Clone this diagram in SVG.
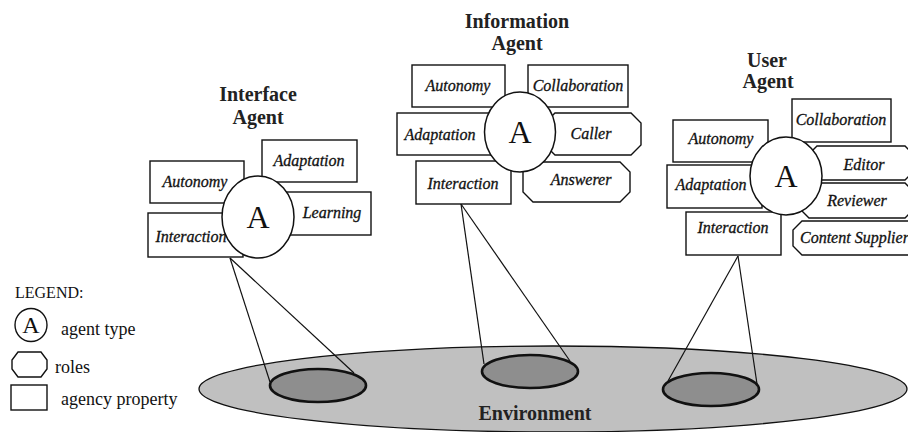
<svg xmlns="http://www.w3.org/2000/svg" width="908" height="432" viewBox="0 0 908 432">
  <style>
    .box { fill: #ffffff; stroke: #111111; stroke-width: 1.4; }
    .role { fill: #ffffff; stroke: #111111; stroke-width: 1.4; }
    .agent { fill: #ffffff; stroke: #111111; stroke-width: 1.5; }
    .lbl { font-family: "Liberation Serif", "Times New Roman", serif; font-style: italic; font-size: 16px; fill: #111111; stroke: #111111; stroke-width: 0.3; text-anchor: middle; }
    .title { font-family: "Liberation Serif", "Times New Roman", serif; font-weight: bold; font-size: 20px; fill: #222222; text-anchor: middle; }
    .bigA { font-family: "Liberation Serif", "Times New Roman", serif; font-size: 32px; fill: #111111; text-anchor: middle; }
    .leg { font-family: "Liberation Serif", "Times New Roman", serif; font-size: 18px; fill: #111111; }
    .cone { stroke: #111111; stroke-width: 1.2; fill: none; }
    .spot { fill: #8e8e8e; stroke: #111111; stroke-width: 2.6; }
  </style>
  <rect width="908" height="432" fill="#ffffff"/>

  <!-- environment floor -->
  <g id="environment">
    <ellipse cx="553" cy="389" rx="354" ry="43" fill="#c0c0c0" stroke="#111111" stroke-width="1.3"/>
    <ellipse class="spot" cx="318" cy="385.5" rx="48" ry="16.5"/>
    <ellipse class="spot" cx="530" cy="371.5" rx="48" ry="16.5"/>
    <ellipse class="spot" cx="711" cy="389.5" rx="48" ry="16.5"/>
    <text x="535" y="420" class="title">Environment</text>
  </g>

  <!-- perception cones from each agent down to the environment -->
  <g id="connectors">
    <line class="cone" x1="230" y1="258" x2="270" y2="382"/>
    <line class="cone" x1="230" y1="258" x2="354" y2="373"/>
    <line class="cone" x1="461" y1="204" x2="484" y2="364"/>
    <line class="cone" x1="461" y1="204" x2="570" y2="361"/>
    <line class="cone" x1="738" y1="256" x2="668" y2="381"/>
    <line class="cone" x1="738" y1="256" x2="757" y2="384"/>
  </g>

  <!-- Interface Agent -->
  <g id="interface-agent">
    <text x="258" y="101" class="title">Interface</text>
    <text x="258" y="124" class="title">Agent</text>
    <rect class="box" x="150" y="161" width="94" height="42"/>
    <text x="195" y="187" class="lbl">Autonomy</text>
    <rect class="box" x="262" y="140" width="95" height="42"/>
    <text x="309" y="166" class="lbl">Adaptation</text>
    <rect class="box" x="284" y="192" width="87" height="43"/>
    <text x="332" y="218" class="lbl">Learning</text>
    <rect class="box" x="148" y="213" width="95" height="44"/>
    <text x="191" y="242" class="lbl">Interaction</text>
    <ellipse class="agent" cx="258" cy="217" rx="36" ry="41"/>
    <text x="258" y="228" class="bigA">A</text>
  </g>

  <!-- Information Agent -->
  <g id="information-agent">
    <text x="517" y="28" class="title">Information</text>
    <text x="517" y="50" class="title">Agent</text>
    <rect class="box" x="412" y="65" width="93" height="42"/>
    <text x="458" y="91" class="lbl">Autonomy</text>
    <rect class="box" x="528" y="65" width="100" height="42"/>
    <text x="578" y="91" class="lbl">Collaboration</text>
    <rect class="box" x="397" y="113" width="95" height="42"/>
    <text x="440" y="140" class="lbl">Adaptation</text>
    <polygon class="role" points="555,113 631,113 641,123 641,145 631,155 555,155 545,145 545,123"/>
    <text x="591" y="139" class="lbl">Caller</text>
    <rect class="box" x="416" y="161" width="95" height="43"/>
    <text x="463" y="189" class="lbl">Interaction</text>
    <polygon class="role" points="533,162 620,162 630,172 630,192 620,202 533,202 523,192 523,172"/>
    <text x="581" y="185" class="lbl">Answerer</text>
    <ellipse class="agent" cx="520" cy="132" rx="35.5" ry="40"/>
    <text x="520" y="143" class="bigA">A</text>
  </g>

  <!-- User Agent -->
  <g id="user-agent">
    <text x="767" y="67" class="title">User</text>
    <text x="768" y="88" class="title">Agent</text>
    <rect class="box" x="673" y="120" width="95" height="42"/>
    <text x="721" y="144" class="lbl">Autonomy</text>
    <rect class="box" x="792" y="99" width="99" height="43"/>
    <text x="841" y="125" class="lbl">Collaboration</text>
    <rect class="box" x="667" y="165" width="95" height="43"/>
    <text x="711" y="190" class="lbl">Adaptation</text>
    <polygon class="role" points="817,146 905,146 914,155 914,171 905,180 817,180 808,171 808,155"/>
    <text x="864" y="170" class="lbl">Editor</text>
    <polygon class="role" points="809,183 905,183 914,192 914,209 905,218 809,218 800,209 800,192"/>
    <text x="857" y="206" class="lbl">Reviewer</text>
    <rect class="box" x="686" y="212" width="95" height="43"/>
    <text x="733" y="233" class="lbl">Interaction</text>
    <polygon class="role" points="802,221 909,221 918,230 918,246 909,255 802,255 793,246 793,230"/>
    <text x="800" y="243" class="lbl" style="text-anchor:start">Content Supplier</text>
    <ellipse class="agent" cx="786" cy="176" rx="36" ry="39"/>
    <text x="786" y="187" class="bigA">A</text>
  </g>

  <!-- key to the symbols -->
  <g id="legend">
    <text x="15" y="298" class="leg" style="font-size:16px">LEGEND:</text>
    <ellipse cx="31" cy="325" rx="16" ry="16.5" fill="#ffffff" stroke="#111111" stroke-width="1.4"/>
    <text x="31" y="333" class="bigA" style="font-size:24px">A</text>
    <text x="61" y="335" class="leg">agent type</text>
    <polygon class="role" points="18,352 41,352 47,360 47,369 41,377 18,377 12,369 12,360"/>
    <text x="55" y="373" class="leg">roles</text>
    <rect class="box" x="11" y="385" width="36" height="25"/>
    <text x="61" y="405" class="leg">agency property</text>
  </g>
</svg>
